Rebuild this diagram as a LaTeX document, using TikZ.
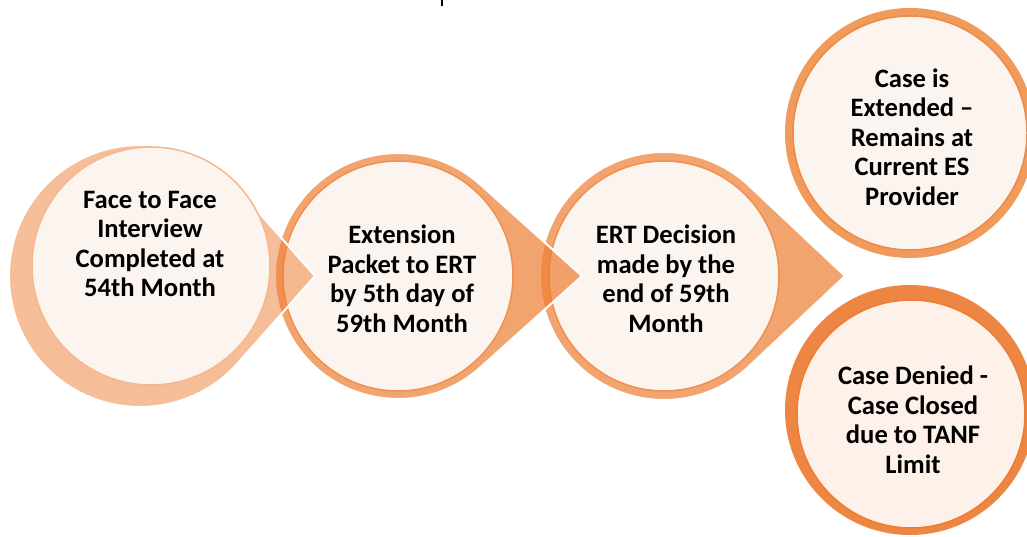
\documentclass[tikz,border=0pt]{standalone}
\usepackage{fontspec}
\setmainfont{Carlito}
\usetikzlibrary{calc}
\definecolor{accent}{HTML}{ED7D31}
\definecolor{ringlight}{HTML}{F09A5C}
\definecolor{ringdark}{HTML}{ED8642}
\definecolor{paper}{HTML}{FCF4EE}
\tikzset{
  steplabel/.style={font=\bfseries\fontsize{26.6}{29.5}\selectfont, align=center, text=black, inner sep=0pt},
  drop/.style={fill=accent, fill opacity=0.7, draw=white, line width=2pt, line join=miter},
  innerdisc/.style={fill=paper, draw=accent!85, line width=1.5pt},
}
\begin{document}
\begin{tikzpicture}[x=1pt,y=1pt]
\useasboundingbox (0,0) rectangle (1027,537);

% centres of the step circles and the tips of their pointers
\coordinate (c1) at (140,261);  \coordinate (c1in) at (151,271); \coordinate (tip1) at (315,261);
\coordinate (c2) at (398,261);  \coordinate (tip2) at (582,261);
\coordinate (c3) at (664,261);  \coordinate (tip3) at (845,261);
\coordinate (c4) at (910,404);
\coordinate (c5) at (910,127);  \coordinate (c5in) at (911,123);

% small mark at the top edge
\fill[black] (441,531) rectangle (442.6,537);

% outcome circles
\fill[ringlight] (c4) circle[radius=125];
\draw[innerdisc, draw=accent!90] (c4) circle[radius=117];
\fill[ringdark] (c5) circle[radius=125];
\draw[innerdisc, fill=paper!80!accent!40!white, draw=accent] (c5in) circle[radius=114];

% step 3
\path[drop] ($(c3)+(46.8:124)$) -- (tip3) -- ($(c3)+(-46.8:124)$)
  arc[start angle=-46.8, end angle=-313.2, radius=124] -- cycle;
\draw[innerdisc] (c3) circle[radius=115];

% step 2
\path[drop] ($(c2)+(48:123)$) -- (tip2) -- ($(c2)+(-48:123)$)
  arc[start angle=-48, end angle=-312, radius=123] -- cycle;
\draw[innerdisc] (c2) circle[radius=115];

% step 1
\path[drop, fill opacity=0.5] ($(c1)+(41.5:131)$) -- (tip1) -- ($(c1)+(-41.5:131)$)
  arc[start angle=-41.5, end angle=-318.5, radius=131] -- cycle;
\draw[innerdisc, draw=accent!55] (c1in) circle[radius=119];

% labels
\node[steplabel] (face) at (150,293) {Face to Face\\Interview\\Completed at\\54th Month};
\node[steplabel] (packet) at (402,258) {Extension\\Packet to ERT\\by 5th day of\\59th Month};
\node[steplabel] (decision) at (666,258) {ERT Decision\\made by the\\end of 59th\\Month};
\node[steplabel] (extended) at (912,400) {Case is\\Extended –\\Remains at\\Current ES\\Provider};
\node[steplabel] (denied) at (913,117) {Case Denied -\\Case Closed\\due to TANF\\Limit};
\end{tikzpicture}
\end{document}
